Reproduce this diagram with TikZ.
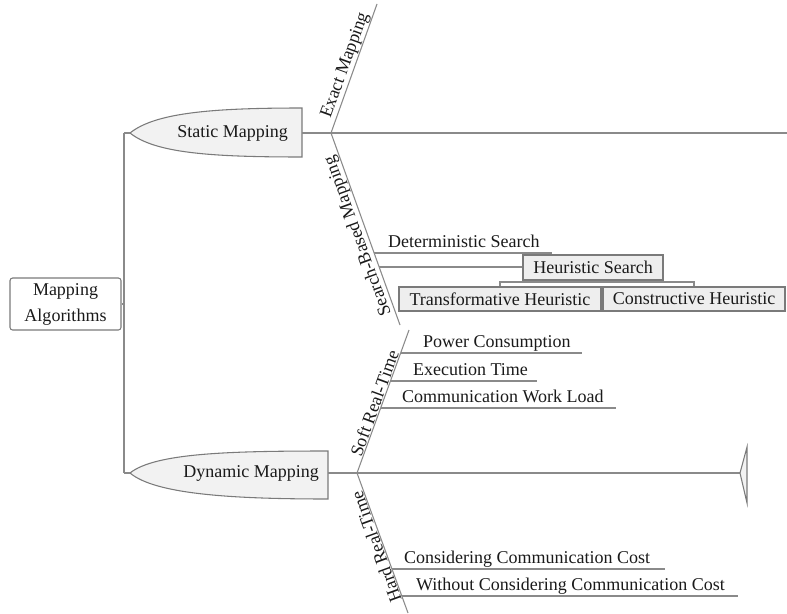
\documentclass[tikz,border=0pt]{standalone}
\usepackage{fontspec}
\setmainfont{Liberation Serif}
\newfontfamily\diagfont{Liberation Serif}
\usetikzlibrary{calc}
\definecolor{linegrey}{HTML}{8A8A8A}
\definecolor{edgegrey}{HTML}{7A7A7A}
\definecolor{shapefill}{HTML}{F2F2F2}
\definecolor{boxfill}{HTML}{EEEEEE}
\definecolor{ink}{HTML}{1A1A1A}
\begin{document}
\begin{tikzpicture}[x=0.75pt,y=-0.75pt,
  link/.style={draw=linegrey, line width=0.8pt},
  bullet/.style={draw=edgegrey, fill=shapefill, line width=0.8pt},
  lbl/.style={font=\diagfont\fontsize{13.5}{19.5}\selectfont, text=ink, inner sep=0.6pt},
  catbox/.style={lbl, draw=edgegrey, fill=boxfill, line width=0.8pt, inner sep=0pt},
]
\useasboundingbox (0,0) rectangle (787,613);

% root
\node[lbl, draw=edgegrey, rounded corners=2pt, line width=0.8pt, align=center,
      minimum width=83.25pt, minimum height=39pt, inner sep=0pt] (root) at (65.5,304)
      {Mapping\\Algorithms};

% spine joining the two main categories
\coordinate (spTop) at (124,133);
\coordinate (spBot) at (124,473);
\coordinate (spMid) at (124,304);
\draw[link] (spTop) -- (spBot);
\draw[link] (root.east) -- (spMid);

% Static Mapping bullet
\coordinate (stTip) at (130,133);
\coordinate (stEnd) at (302,133);
\draw[bullet] (stTip) .. controls (155,113) and (210,108) .. (302,108)
  -- (302,157) .. controls (210,157) and (155,153) .. cycle;
\node[lbl, anchor=east] (static) at (289,133) {Static Mapping};
\draw[link] (spTop) -- (stTip);

% Dynamic Mapping bullet
\coordinate (dyTip) at (130,473);
\coordinate (dyEnd) at (328,473);
\draw[bullet] (dyTip) .. controls (155,453) and (230,451) .. (328,451)
  -- (328,499) .. controls (230,499) and (155,494) .. cycle;
\node[lbl, anchor=east] (dynamic) at (320,473) {Dynamic Mapping};
\draw[link] (spBot) -- (dyTip);

% static fork
\coordinate (sFork) at (331,133);
\coordinate (sRight) at (787,133);
\coordinate (exTop) at (377,4);
\coordinate (seBot) at (400,325);
\draw[link] (stEnd) -- (sFork) -- (sRight);
\draw[link] (sFork) -- (exTop);
\draw[link] (sFork) -- (seBot);
\node[lbl, rotate=70, anchor=south] (exact) at ($(sFork)!0.5!(exTop)$) {Exact Mapping};
\node[lbl, rotate=110, anchor=south] (search) at ($(sFork)!0.52!(seBot)$) {Search-Based Mapping};

% search-based sub branches
\coordinate (ds0) at (374,253);
\coordinate (ds1) at (552,253);
\draw[link] (ds0) -- (ds1);
\node[lbl, anchor=base west] (determ) at (387,247) {Deterministic Search};

\node[catbox, minimum width=105pt, minimum height=18.75pt] (heur) at (593,267.5) {Heuristic Search};
\coordinate (hs0) at (379,267);
\draw[link] (hs0) -- (heur.west |- hs0);

\node[catbox, minimum width=151.5pt, minimum height=18pt] (trans) at (500,299) {Transformative Heuristic};
\node[catbox, minimum width=136.5pt, minimum height=18pt] (cons) at (694,299) {Constructive Heuristic};
\coordinate (brk) at (593,282);
\draw[link] (heur.south) -- (brk);
\draw[link] (trans.north) |- (brk) -| (cons.north);

% dynamic fork
\coordinate (dFork) at (357,473);
\coordinate (dRight) at (740,473);
\coordinate (soTop) at (409,330);
\coordinate (haBot) at (408,613);
\draw[link] (dyEnd) -- (dFork) -- (dRight);
\draw[bullet] (dRight) -- (747,447) -- (747,503) -- cycle;
\draw[link] (dFork) -- (soTop);
\draw[link] (dFork) -- (haBot);
\node[lbl, rotate=70, anchor=south] (soft) at ($(dFork)!0.47!(soTop)$) {Soft Real-Time};
\node[lbl, rotate=110, anchor=south] (hard) at ($(dFork)!0.51!(haBot)$) {Hard Real-Time};

% soft real-time sub branches
\coordinate (pc0) at (400.6,353);
\coordinate (pc1) at (582,353);
\draw[link] (pc0) -- (pc1);
\node[lbl, anchor=base west] (power) at (422,347) {Power Consumption};
\coordinate (et0) at (390.5,381);
\coordinate (et1) at (537,381);
\draw[link] (et0) -- (et1);
\node[lbl, anchor=base west] (exec) at (412,375) {Execution Time};
\coordinate (cw0) at (380.6,408);
\coordinate (cw1) at (616,408);
\draw[link] (cw0) -- (cw1);
\node[lbl, anchor=base west] (work) at (401,402) {Communication Work Load};

% hard real-time sub branches
\coordinate (cc0) at (392,569);
\coordinate (cc1) at (665,569);
\draw[link] (cc0) -- (cc1);
\node[lbl, anchor=base west] (consid) at (403,563) {Considering Communication Cost};
\coordinate (wc0) at (401.8,596);
\coordinate (wc1) at (738,596);
\draw[link] (wc0) -- (wc1);
\node[lbl, anchor=base west] (without) at (415,590) {Without Considering Communication Cost};
\end{tikzpicture}
\end{document}
